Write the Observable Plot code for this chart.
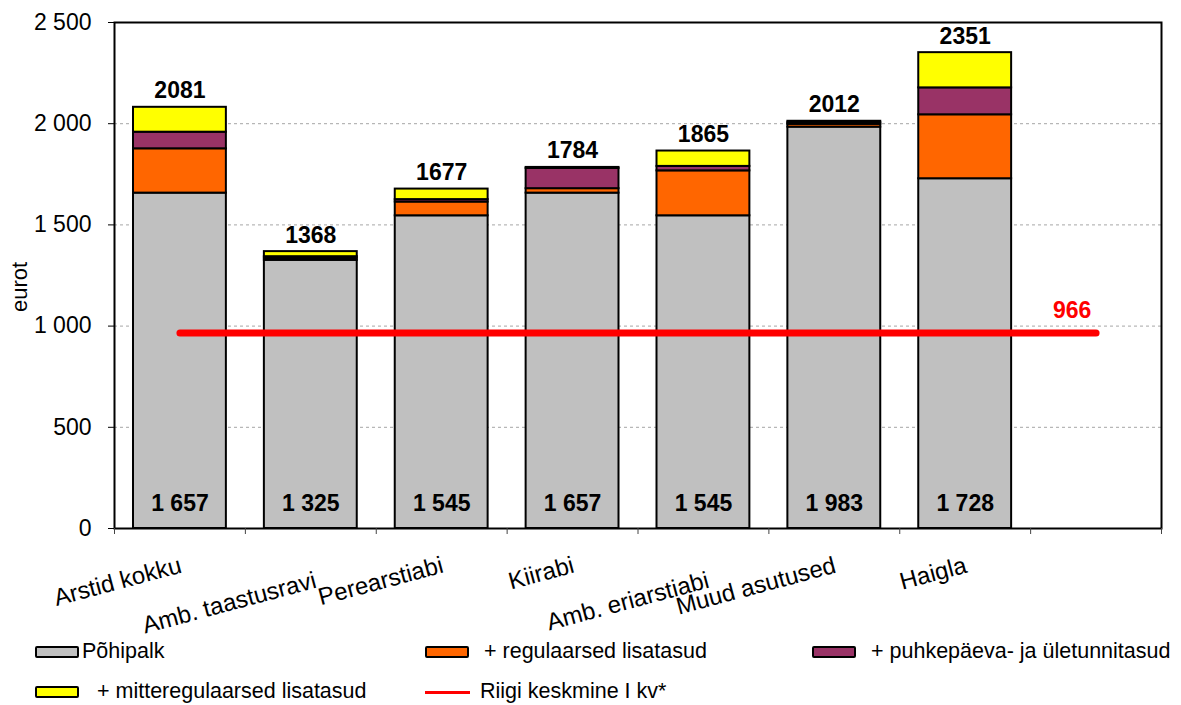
<!DOCTYPE html>
<html>
<head>
<meta charset="utf-8">
<script src="https://cdn.jsdelivr.net/npm/d3@7"></script>
<script src="https://cdn.jsdelivr.net/npm/@observablehq/plot@0.6"></script>
<style>
  html, body { margin: 0; padding: 0; background: #fff; overflow: hidden; }
  #wrap { position: relative; width: 1181px; height: 705px; font-family: "Liberation Sans", Arial, sans-serif; }
  #chart svg { display: block; }
  .leg { position: absolute; display: flex; align-items: center; font-size: 21.5px; color: #000; white-space: pre; line-height: 1; }
  .sw { box-sizing: border-box; width: 44px; height: 12px; border: 2px solid #000; border-radius: 2px; }
  .ln { width: 45px; height: 3px; background: #ff0000; }
  #ylabel { position: absolute; left: 20px; top: 287px; font-size: 22px; line-height: 1; white-space: nowrap;
            transform: translate(-50%, -50%) rotate(-90deg); }
</style>
</head>
<body>
<div id="wrap">
  <div id="chart"></div>
  <div id="ylabel"></div>
  <div id="legend"></div>
</div>
<script>
// ---- data ----
const categories = ["Arstid kokku", "Amb. taastusravi", "Perearstiabi", "Kiirabi", "Amb. eriarstiabi", "Muud asutused", "Haigla", ""];
const xLabels = ["Arstid kokku", "\nAmb. taastusravi", "Perearstiabi", "Kiirabi", "\nAmb. eriarstiabi", "Muud asutused", "Haigla", ""];
const seriesNames = ["Põhipalk", "+ regulaarsed lisatasud", "+ puhkepäeva- ja ületunnitasud", "+ mitteregulaarsed lisatasud"];
const basePay   = [1657, 1325, 1545, 1657, 1545, 1983, 1728];
const regular   = [219, 10, 68, 22, 222, 14, 316];
const overtime  = [82, 8, 12, 100, 22, 8, 133];
const irregular = [123, 25, 52, 5, 76, 7, 174];
const totals    = [2081, 1368, 1677, 1784, 1865, 2012, 2351];
const average = 966;
const averageName = "Riigi keskmine I kv*";
const yLabel = "eurot";
const yTicks = [0, 500, 1000, 1500, 2000, 2500];
const seriesColors = ["#c0c0c0", "#ff6600", "#993366", "#ffff00"];

// ---- derived table ----
const seriesValues = [basePay, regular, overtime, irregular];
const stacked = seriesNames.flatMap((s, k) =>
  seriesValues[k].map((v, i) => ({i, category: categories[i], series: s, value: v})));
const avgLine = categories.map((c, i) => ({i, category: c, value: average}));

const fmt = d => d3.format(",")(d).replace(/,/g, " ");
const font = "'Liberation Sans', Arial, sans-serif";

const chart = Plot.plot({
  width: 1181,
  height: 625,
  marginLeft: 114,
  marginRight: 20,
  marginTop: 22,
  marginBottom: 97,
  style: {fontFamily: font, fontSize: "22px", color: "#000", background: "#fff", overflow: "visible"},
  x: {type: "linear", domain: [0, categories.length], axis: null},
  y: {domain: [0, 2500], axis: null},
  color: {domain: seriesNames, range: seriesColors},
  marks: [
    Plot.gridY({ticks: yTicks.filter(t => t > 0 && t < 2500), stroke: "#a6a6a6", strokeOpacity: 1, strokeWidth: 1, strokeDasharray: "3,3"}),
    Plot.rectY(stacked, {x: "i", interval: 1, y: "value", fill: "series", order: seriesNames,
      stroke: "#000", strokeWidth: 2, insetLeft: 19, insetRight: 19}),
    Plot.line(avgLine, {x: d => d.i + 0.5, y: "value", stroke: "#ff0000", strokeWidth: 7, strokeLinecap: "round"}),
    Plot.text([average], {x: () => categories.length - 0.5, y: d => d, text: d => String(d), dx: -24, dy: -22,
      fill: "#ff0000", fontWeight: "bold", fontSize: 23}),
    Plot.text(totals, {x: (d, i) => i + 0.5, y: d => d, text: d => String(d), lineAnchor: "bottom", dy: -9,
      fontWeight: "bold", fontSize: 23}),
    Plot.text(basePay, {x: (d, i) => i + 0.5, frameAnchor: "bottom", lineAnchor: "middle", text: fmt, dy: -25,
      fontWeight: "bold", fontSize: 23}),
    Plot.frame({stroke: "#000", strokeWidth: 2}),
    Plot.axisY({ticks: yTicks, tickSize: 6, tickPadding: 17, tickFormat: fmt, fontSize: 23, label: null}),
    Plot.axisX({ticks: d3.range(0, categories.length + 1), tickSize: 6, tickFormat: () => "", label: null, stroke: "#444"}),
    Plot.text(xLabels, {x: (d, i) => i + 0.5, frameAnchor: "bottom", dy: 33, rotate: -15,
      textAnchor: "end", lineAnchor: "top", lineHeight: 0.65, fontSize: 24})
  ]
});
document.getElementById("chart").appendChild(chart);
document.getElementById("ylabel").textContent = yLabel;

// ---- legend ----
const legendLayout = [
  {kind: "sw", k: 0, left: 35, top: 652, gap: 3},
  {kind: "sw", k: 1, left: 425, top: 652, gap: 15},
  {kind: "sw", k: 2, left: 812, top: 652, gap: 15},
  {kind: "sw", k: 3, left: 35, top: 692, gap: 18},
  {kind: "ln", left: 425, top: 692, gap: 10}
];
const legend = document.getElementById("legend");
for (const it of legendLayout) {
  const div = document.createElement("div");
  div.className = "leg";
  div.style.left = it.left + "px";
  div.style.top = (it.top - 11) + "px";
  div.style.height = "22px";
  const mark = document.createElement("div");
  const label = document.createElement("span");
  if (it.kind === "sw") {
    mark.className = "sw";
    mark.style.background = seriesColors[it.k];
    label.textContent = seriesNames[it.k];
  } else {
    mark.className = "ln";
    label.textContent = averageName;
  }
  label.style.marginLeft = it.gap + "px";
  div.appendChild(mark);
  div.appendChild(label);
  legend.appendChild(div);
}
</script>
</body>
</html>
